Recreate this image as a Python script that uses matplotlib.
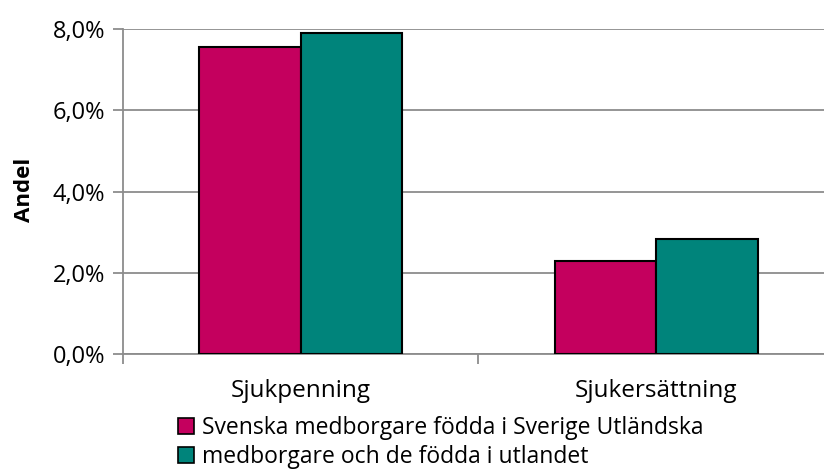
import matplotlib
matplotlib.use("Agg")
import matplotlib.pyplot as plt
import numpy as np
from matplotlib.patches import Patch
from matplotlib.ticker import FuncFormatter

categories = ["Sjukpenning", "Sjukersättning"]
series_names = ["Svenska medborgare födda i Sverige Utländska",
                "medborgare och de födda i utlandet"]
svenska = [7.56, 2.30]
utlandska = [7.91, 2.83]
yticks = [0, 2, 4, 6, 8]
colors = ["#C4005E", "#00847B"]

plt.rcParams['font.family'] = ['Open Sans', 'DejaVu Sans']

W, H = 824, 471
fig = plt.figure(figsize=(W/100, H/100), dpi=100)
x0, x1 = 123, 834
y0, y1 = 354, 29
ax = fig.add_axes([x0/W, 1 - y0/H, (x1 - x0)/W, (y0 - y1)/H])

x = np.arange(len(categories))
bw = 0.285
ax.bar(x - bw/2, svenska, bw, color=colors[0], edgecolor="black", linewidth=1.5, zorder=3)
ax.bar(x + bw/2, utlandska, bw, color=colors[1], edgecolor="black", linewidth=1.5, zorder=3)

ax.set_xlim(-0.5, len(categories) - 0.5)
ax.set_ylim(0, 8)
ax.set_yticks(yticks)
ax.yaxis.set_major_formatter(FuncFormatter(lambda v, p: f"{v:.1f}%".replace(".", ",")))
ax.grid(axis="y", color="#8c8c8c", linewidth=1.3, zorder=0)
ax.set_axisbelow(True)

ax.set_xticks(x)
ax.set_xticklabels(categories, fontsize=17.5)
ax.set_xticks([-0.5, 0.5, 1.5], minor=True)
ax.tick_params(axis="x", which="major", length=0, pad=18)
ax.tick_params(axis="x", which="minor", length=7, color="#8c8c8c", width=1.3)
ax.tick_params(axis="y", length=7, color="#8c8c8c", width=1.3, labelsize=17, pad=6)

for s in ["top", "right"]:
    ax.spines[s].set_visible(False)
for s in ["left", "bottom"]:
    ax.spines[s].set_color("#8c8c8c")
    ax.spines[s].set_linewidth(1.3)

fig.text(25/W, 1 - 190/H, "Andel", rotation=90, fontsize=16, fontweight="bold",
         ha="center", va="center")

handles = [Patch(facecolor=colors[0], edgecolor="black", linewidth=1.2),
           Patch(facecolor=colors[1], edgecolor="black", linewidth=1.2)]
fig.legend(handles, series_names, loc="upper left",
           bbox_to_anchor=(178/W, 1 - 416/H), frameon=False, fontsize=16.5,
           handlelength=0.69, handleheight=0.69, handletextpad=0.35,
           labelspacing=0.2, borderpad=0, borderaxespad=0)

fig.savefig("out.png", dpi=100)
